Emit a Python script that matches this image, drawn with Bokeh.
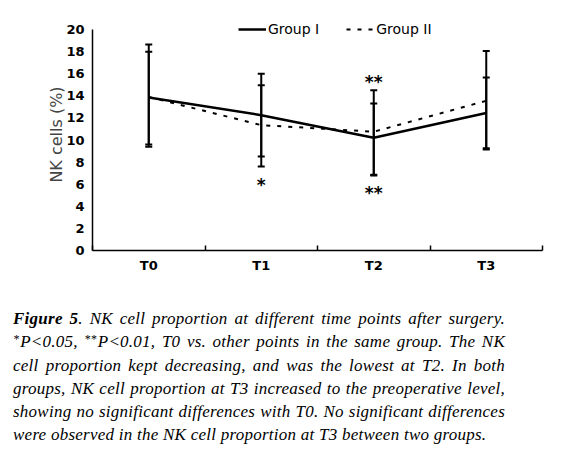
from bokeh.plotting import figure
from bokeh.models import (Range1d, FixedTicker, Whisker, ColumnDataSource, TeeHead,
                          Legend, LegendItem, Div)
from bokeh.layouts import column
from bokeh.embed import file_html
from bokeh.resources import INLINE
from bokeh.core.properties import value

# ---- data ----
time_points = ["T0", "T1", "T2", "T3"]
group1_mean = [13.85, 12.25, 10.2, 12.45]
group1_upper = [18.65, 16.0, 14.5, 15.65]
group1_lower = [9.4, 8.5, 6.8, 9.25]
group2_mean = [13.9, 11.35, 10.75, 13.55]
group2_upper = [18.0, 14.95, 13.3, 18.05]
group2_lower = [9.6, 7.6, 6.85, 9.15]
y_ticks = [0, 2, 4, 6, 8, 10, 12, 14, 16, 18, 20]
sig_labels = ["*", "**", "**"]
sig_point = ["T1", "T2", "T2"]
sig_side = ["below", "above", "below"]
series_names = ["Group I", "Group II"]

FONT = "DejaVu Sans"
xs = [i + 0.5 for i in range(len(time_points))]
y_min, y_max = y_ticks[0], y_ticks[-1]
PX_PER_UNIT = 11.05
headroom = 1.0  # extra data units above the top tick so the legend is not clipped

p = figure(frame_width=450, frame_height=round(PX_PER_UNIT * (y_max - y_min + headroom)),
           min_border_left=92, min_border_right=38,
           min_border_top=29 - round(PX_PER_UNIT * headroom), min_border_bottom=50,
           x_range=Range1d(0, len(time_points)), y_range=Range1d(y_min, y_max + headroom),
           output_backend="svg", toolbar_location=None, tools="")
p.outline_line_color = None
p.grid.visible = False
p.background_fill_color = "white"
p.border_fill_color = "white"

# x axis
p.xaxis.ticker = FixedTicker(ticks=xs, minor_ticks=list(range(len(time_points) + 1)))
p.xaxis.major_label_overrides = {x: t for x, t in zip(xs, time_points)}
p.xaxis.major_tick_out = 0
p.xaxis.major_tick_in = 0
p.xaxis.minor_tick_in = 5
p.xaxis.minor_tick_out = 0
p.xaxis.minor_tick_line_color = "black"
p.xaxis.minor_tick_line_width = 1.5
p.xaxis.major_label_standoff = 7
# y axis
p.yaxis.ticker = FixedTicker(ticks=y_ticks, minor_ticks=[])
p.yaxis.bounds = (y_min, y_max)
p.yaxis.major_tick_out = 4
p.yaxis.major_tick_in = 0
p.yaxis.major_tick_line_width = 1.5
p.yaxis.major_label_standoff = 4
p.yaxis.axis_label = "NK cells (%)"
p.yaxis.axis_label_text_font = FONT
p.yaxis.axis_label_text_font_size = "16px"
p.yaxis.axis_label_text_font_style = "normal"
p.yaxis.axis_label_standoff = -3
for ax in (p.xaxis, p.yaxis):
    ax.axis_line_color = "black"
    ax.axis_line_width = 1.5
    ax.major_tick_line_color = "black" if ax is p.yaxis else None
    ax.major_label_text_font = FONT
    ax.major_label_text_font_size = "13px"
    ax.major_label_text_font_style = "bold"
    ax.major_label_text_color = "black"

# lines
r1 = p.line(xs, group1_mean, line_color="black", line_width=2.5)
r2 = p.line(xs, group2_mean, line_color="black", line_width=2, line_dash="4 7")

# error bars
for upper, lower in ((group1_upper, group1_lower), (group2_upper, group2_lower)):
    src = ColumnDataSource(dict(x=xs, upper=upper, lower=lower))
    w = Whisker(source=src, base="x", upper="upper", lower="lower", dimension="height",
                line_color="black", line_width=2,
                upper_head=TeeHead(size=7, line_color="black", line_width=2),
                lower_head=TeeHead(size=7, line_color="black", line_width=2))
    p.add_layout(w)

# significance marks
idx = {t: i for i, t in enumerate(time_points)}
sx, sy, soff = [], [], []
for lab, pt, side in zip(sig_labels, sig_point, sig_side):
    i = idx[pt]
    sx.append(xs[i])
    if side == "above":
        sy.append(max(group1_upper[i], group2_upper[i]))
        soff.append(-8)
    else:
        sy.append(min(group1_lower[i], group2_lower[i]))
        soff.append(18)
p.text(x=sx, y=sy, text=sig_labels, y_offset=soff, text_align="center",
       text_baseline="middle", text_font=value(FONT), text_font_size="17px",
       text_font_style="bold", text_color="black")

legend = Legend(items=[LegendItem(label=series_names[0], renderers=[r1]),
                       LegendItem(label=series_names[1], renderers=[r2])],
                location=(146, round(PX_PER_UNIT * (y_max - y_min)) - 8), orientation="horizontal",
                glyph_width=28, glyph_height=16, label_standoff=2, spacing=27,
                padding=0, margin=0, border_line_color=None, background_fill_alpha=0,
                label_text_font=FONT, label_text_font_size="14px", label_text_color="black")
p.add_layout(legend, "center")

sup = '<sup style="font-size:0.7em;vertical-align:0.35em;line-height:0;margin-right:1px;">'
caption = Div(
    text=('<div style="font-family:\'Liberation Serif\',serif;font-style:italic;font-size:17px;'
          'letter-spacing:0.25px;line-height:23.3px;text-align:justify;color:#000;width:492px;">'
          '<b>Figure 5</b>. NK cell proportion at different time points after surgery. '
          + sup + '*</sup>P&lt;0.05, ' + sup + '**</sup>P&lt;0.01, '
          'T0 vs. other points in the same group. The NK cell proportion kept decreasing, '
          'and was the lowest at T2. In both groups, NK cell proportion at T3 increased to '
          'the preoperative level, showing no significant differences with T0. No significant '
          'differences were observed in the NK cell proportion at T3 between two groups.</div>'),
    width=492, margin=(7, 0, 0, 13))

layout = column(p, caption, spacing=0)
open("out.html", "w").write(file_html(layout, INLINE))
